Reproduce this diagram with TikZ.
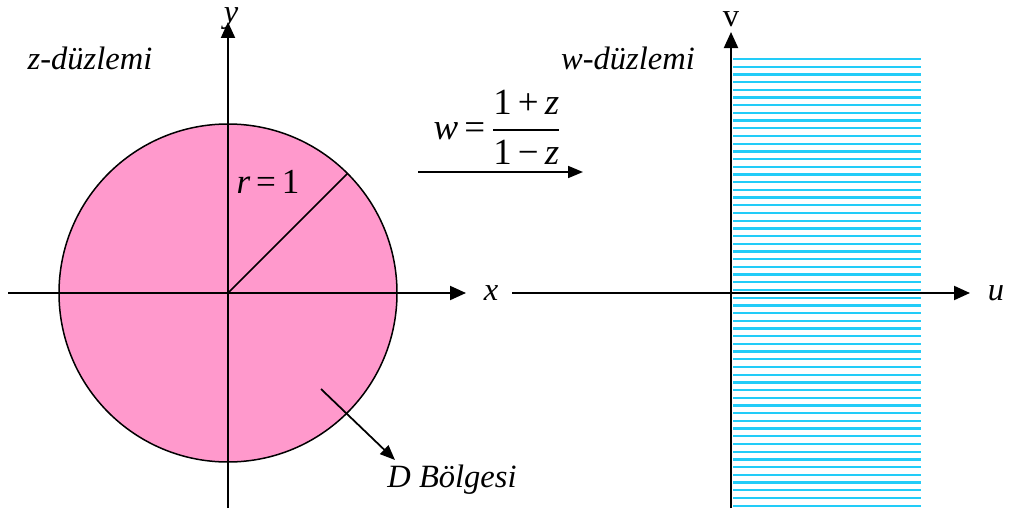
\documentclass[tikz,border=0pt]{standalone}
\usepackage{amsmath}
\usepackage{fontspec}
\setmainfont{Liberation Serif}
\usetikzlibrary{arrows.meta,positioning,calc}
\definecolor{Pink}{HTML}{FF99CC}
\definecolor{Hatch}{HTML}{22CCF8}
\tikzset{
  axis/.style={line width=0.04cm, -{Triangle[length=0.32cm, width=0.28cm]}},
  pointer/.style={line width=0.035cm, -{Triangle[length=0.3cm, width=0.24cm]}},
  lbl/.style={font=\fontsize{18.5}{22}\selectfont\itshape, inner sep=1pt},
  hatch/.style={draw=Hatch, line width=0.045cm},
  disk/.style={fill=Pink, draw=black, line width=0.03cm}
}
\begin{document}
\begin{tikzpicture}
\useasboundingbox (0,0) rectangle (20.18,10.18);
% z-plane
\coordinate (o) at (4.56,4.32);
\fill[disk] (o) circle (3.38);
\coordinate (xl) at (0.16,4.32);
\coordinate (xr) at (9.32,4.32);
\coordinate (yb) at (4.56,0.02);
\coordinate (yt) at (4.56,9.74);
\draw[axis] (xl) -- (xr);
\draw[axis] (yb) -- (yt);
\coordinate (rim) at ($(o)+(45:3.38)$);
\draw[line width=0.035cm] (o) -- (rim);
\node[lbl] (x) at (9.82,4.32) {x};
\node[lbl] (y) at (4.62,9.8) {y};
\node[lbl] (zp) at (1.8,9.02) {z-düzlemi};
\node[lbl, font=\fontsize{20}{24}\selectfont] (r) at (5.36,6.54) {\textit{r}\,=\,1};
\coordinate (din) at (6.42,2.4);
\node[lbl] (d) at (9.04,0.58) {D Bölgesi};
\draw[pointer] (din) -- (7.9,0.98);
% mapping
\node[lbl, font=\fontsize{21}{24}\selectfont] (map) at (9.95,7.64)
  {$\mbox{\textit{w}\,=\,}\dfrac{\mbox{1\,+\,\textit{z}}}{\mbox{1\,−\,\textit{z}}}$};
\coordinate (ma) at (8.36,6.74);
\coordinate (mb) at (11.66,6.74);
\draw[pointer] (ma) -- (mb);
% w-plane
\foreach \k in {0,...,58}
  \draw[hatch] (14.66,9.0-\k*0.154) -- (18.42,9.0-\k*0.154);
\coordinate (ul) at (10.24,4.32);
\coordinate (ur) at (19.4,4.32);
\coordinate (vb) at (14.62,0.02);
\coordinate (vt) at (14.62,9.54);
\draw[axis] (ul) -- (ur);
\draw[axis] (vb) -- (vt);
\node[lbl] (u) at (19.92,4.32) {u};
\node[lbl, font=\fontsize{18.5}{22}\selectfont] (v) at (14.62,9.8) {v};
\node[lbl] (wp) at (12.56,9.02) {w-düzlemi};
\end{tikzpicture}
\end{document}
